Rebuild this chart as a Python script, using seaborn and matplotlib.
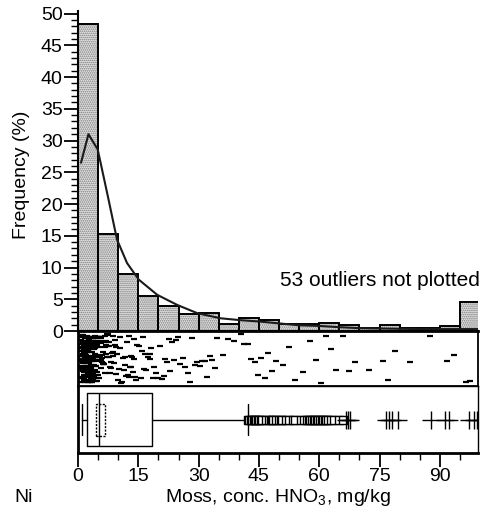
import numpy as np
import matplotlib
matplotlib.use("Agg")
import matplotlib.pyplot as plt
import seaborn as sns
from matplotlib.patches import Rectangle
from matplotlib.ticker import MultipleLocator

# ---------------- data ----------------
bin_edges = [0, 5, 10, 15, 20, 25, 30, 35, 40, 45, 50, 55, 60, 65, 70, 75, 80, 85, 90, 95, 100]
bin_freq = [48.3, 15.2, 8.95, 5.5, 4.0, 2.7, 2.8, 1.1, 2.0, 1.8, 1.1, 1.1, 1.3, 0.9,
            0.4, 1.0, 0.5, 0.4, 0.8, 4.5]

dens_x = [0.75, 2.6, 4.9, 7.5, 9.7, 12.2, 15.1, 19.7, 24.7, 29.7, 35.5, 40.5, 45, 50,
          55, 60, 65, 70, 75, 80, 85, 90, 95, 99.5]
dens_y = [26.5, 31.0, 28.6, 21.0, 14.4, 10.7, 8.1, 5.7, 4.1, 2.8, 2.0, 1.7, 1.5, 1.2,
          0.9, 0.8, 0.6, 0.45, 0.4, 0.35, 0.3, 0.3, 0.3, 0.3]

strip_values = [
    0.4, 0.5, 0.6, 0.7, 0.7, 0.8, 0.8, 0.9, 0.9, 1.0, 1.0, 1.0, 1.1, 1.1, 1.1, 1.2, 1.2, 1.2,
    1.3, 1.3, 1.3, 1.3, 1.4, 1.4, 1.4, 1.4, 1.5, 1.5, 1.5, 1.5, 1.6, 1.6, 1.6, 1.6, 1.7, 1.7,
    1.7, 1.7, 1.8, 1.8, 1.8, 1.8, 1.9, 1.9, 1.9, 1.9, 2.0, 2.0, 2.0, 2.0, 2.1, 2.1, 2.1, 2.1,
    2.2, 2.2, 2.2, 2.2, 2.3, 2.3, 2.3, 2.3, 2.4, 2.4, 2.4, 2.4, 2.5, 2.5, 2.5, 2.5, 2.6, 2.6,
    2.6, 2.6, 2.7, 2.7, 2.7, 2.7, 2.8, 2.8, 2.8, 2.8, 2.9, 2.9, 2.9, 3.0, 3.0, 3.0, 3.1, 3.1,
    3.1, 3.2, 3.2, 3.2, 3.3, 3.3, 3.3, 3.4, 3.4, 3.4, 3.5, 3.5, 3.5, 3.6, 3.6, 3.6, 3.7, 3.7,
    3.7, 3.8, 3.8, 3.8, 3.9, 3.9, 4.0, 4.0, 4.1, 4.1, 4.2, 4.2, 4.3, 4.3, 4.4, 4.4, 4.5, 4.5,
    4.6, 4.6, 4.7, 4.7, 4.8, 4.8, 4.9, 4.9, 5.0,
    0.45, 0.55, 0.65, 0.75, 0.85, 0.95, 1.05, 1.15, 1.25, 1.35, 1.45, 1.55, 1.65, 1.75, 1.85,
    1.95, 2.05, 2.15, 2.25, 2.35, 2.45, 2.55, 2.65, 2.75, 2.85, 2.95, 3.05, 3.15, 3.25, 3.35,
    3.45, 3.55, 3.65, 3.75, 3.85, 3.95, 4.05, 4.15, 4.25, 4.35, 4.45, 4.55, 4.65, 4.75, 4.85,
    1.05, 1.25, 1.45, 1.65, 1.85, 2.05, 2.25, 2.45, 2.65, 2.85, 3.05, 3.25, 3.45, 3.65, 3.85,
    5.1, 5.2, 5.3, 5.3, 5.4, 5.5, 5.6, 5.7, 5.8, 5.8, 5.9, 6.0, 6.1, 6.2, 6.3, 6.4, 6.5, 6.6,
    6.8, 6.9, 7.0, 7.1, 7.2, 7.3, 7.5, 7.6, 7.8, 7.9, 8.0, 8.1, 8.3, 8.5, 8.6, 8.7, 8.8, 9.0,
    9.1, 9.3, 9.4, 9.5, 9.7, 9.9, 5.15, 5.45, 5.75, 6.05, 6.35, 6.7, 7.05, 7.4, 7.7,
    10.2, 10.4, 10.5, 10.7, 10.9, 11.2, 11.4, 11.6, 11.8, 11.9, 12.1, 12.4, 12.6, 12.7, 12.9,
    13.1, 13.3, 13.4, 13.6, 13.9, 14.0, 14.2, 14.5, 14.8,
    15.2, 15.6, 15.9, 16.1, 16.3, 16.7, 17.0, 17.4, 17.8, 18.0, 18.2, 18.6, 19.0, 19.4, 19.8,
    20.3, 20.8, 21.3, 21.7, 22.1, 22.6, 23.0, 23.5, 24.0, 24.4, 24.8,
    25.4, 26.0, 26.6, 27.3, 27.9, 28.4, 29.0, 29.6,
    30.3, 30.9, 31.5, 32.1, 32.8, 33.4, 34.0, 34.6,
    36.0, 37.4, 38.8,
    40.6, 41.4, 42.3, 43.1, 44.0, 44.7,
    45.5, 46.4, 47.3, 48.2, 49.2,
    51.0, 52.5, 54.0,
    56.0, 57.6, 59.1,
    60.5, 61.8, 63.0, 64.3,
    65.8, 67.5, 69.0,
    72.5,
    75.8, 77.2, 78.8,
    82.5, 87.5, 91.7, 93.5, 96.6, 97.4,
]

box_whislo, box_q1, box_med, box_q3, box_whishi = 0.9, 2.2, 5.3, 18.4, 42.2
notch_lo, notch_hi = 4.4, 6.6
near_outliers = [42.2, 42.6, 43.0, 43.3, 43.7, 44.0, 44.4, 44.8, 45.1, 45.5, 45.8, 46.7,
                 47.5, 47.9, 48.3, 48.6, 49.3, 50.0, 50.4, 50.8, 51.8, 52.6, 53.4, 53.9,
                 55.5, 56.3, 57.0, 57.4, 57.8, 58.2, 58.6, 59.0, 59.4, 59.8, 60.2, 60.6,
                 61.0, 61.4, 61.8, 62.2, 63.0, 63.8, 65.0, 65.8]
far_outliers = [66.7, 67.2, 67.6, 76.5, 77.3, 78.2, 79.7, 87.8, 91.3, 92.3, 97.3, 98.4, 99.3]

x_ticks = [0, 15, 30, 45, 60, 75, 90]
y_ticks = [0, 5, 10, 15, 20, 25, 30, 35, 40, 45, 50]
note_text = "53 outliers not plotted"
x_label = "Moss, conc. HNO$_3$, mg/kg"
y_label = "Frequency (%)"
element_label = "Ni"

# ---------------- styling ----------------
sns.set_theme(style="ticks")
plt.rcParams['font.family'] = ['Liberation Sans', 'DejaVu Sans']
plt.rcParams['mathtext.fontset'] = 'custom'
plt.rcParams['mathtext.rm'] = 'Liberation Sans'
plt.rcParams['mathtext.it'] = 'Liberation Sans:italic'
plt.rcParams['hatch.linewidth'] = 0.8
FS = 14

W, H = 482, 521
fig = plt.figure(figsize=(W / 100, H / 100), dpi=100)


def ax_at(x0, y0, x1, y1):
    return fig.add_axes([x0 / W, 1 - y1 / H, (x1 - x0) / W, (y1 - y0) / H])


ax_h = ax_at(78, 11, 478, 331)
ax_s = ax_at(78, 331, 478, 386)
ax_b = ax_at(78, 386, 478, 453)

XMAX = 99.5

# ---------------- histogram ----------------
centers = [(a + b) / 2 for a, b in zip(bin_edges[:-1], bin_edges[1:])]
sns.histplot(x=centers, weights=bin_freq, bins=bin_edges, stat="count", ax=ax_h,
             color="#e4e4e4", edgecolor="#787878", linewidth=0, hatch="........",
             alpha=1)
sns.histplot(x=centers, weights=bin_freq, bins=bin_edges, stat="count", ax=ax_h,
             fill=False, color="black", edgecolor="black", linewidth=1.4)
sns.lineplot(x=dens_x, y=dens_y, ax=ax_h, color="#1a1a1a", linewidth=1.5)

ax_h.set_xlim(0, XMAX)
ax_h.set_ylim(0, 50.4)
ax_h.set_yticks(y_ticks)
ax_h.yaxis.set_minor_locator(MultipleLocator(1))
ax_h.tick_params(axis="y", which="major", length=10, width=1.3, labelsize=FS, pad=1, colors="black")
ax_h.tick_params(axis="y", which="minor", length=5, width=1.0, colors="black")
ax_h.set_xticks([])
ax_h.set_ylabel("")
ax_h.set_xlabel("")
for s in ["top", "right"]:
    ax_h.spines[s].set_visible(False)
ax_h.spines["left"].set_linewidth(1.5)
ax_h.spines["bottom"].set_linewidth(1.5)
for s in ax_h.spines.values():
    s.set_color("black")

# ---------------- strip panel ----------------
np.random.seed(3)
sns.stripplot(x=strip_values, ax=ax_s, jitter=0.45, marker="_", color="black",
              size=4.2, linewidth=1.6, edgecolor="black")
ax_s.set_xlim(0, XMAX)
ax_s.set_ylim(0.5, -0.5)
ax_s.set_xticks([])
ax_s.set_yticks([])
ax_s.set_xlabel("")
for s in ax_s.spines.values():
    s.set_visible(True)
    s.set_color("black")
    s.set_linewidth(1.3)
ax_s.spines["left"].set_linewidth(2)
ax_s.spines["top"].set_linewidth(2)

# ---------------- box panel ----------------
stats = [dict(whislo=box_whislo, q1=box_q1, med=box_med, q3=box_q3,
              whishi=box_whishi, fliers=[])]
lp = dict(color="black", linewidth=1.0)
ax_b.bxp(stats, positions=[0], widths=0.8, capwidths=0.47, orientation="horizontal",
         showfliers=False, boxprops=lp, whiskerprops=lp, capprops=lp,
         medianprops=lp, manage_ticks=False)
ax_b.add_patch(Rectangle((notch_lo, -0.24), notch_hi - notch_lo, 0.47, fill=False,
                         edgecolor="black", linewidth=1.0, linestyle=(0, (1.5, 1))))
sns.scatterplot(x=near_outliers, y=[0] * len(near_outliers), ax=ax_b, marker="s", s=32,
                facecolor="white", edgecolor="black", linewidth=1.0, zorder=3)
sns.scatterplot(x=far_outliers, y=[0] * len(far_outliers), ax=ax_b, marker="+", s=150,
                color="black", linewidth=1.0, zorder=3)
ax_b.set_xlim(0, XMAX)
ax_b.set_ylim(-0.5, 0.5)
ax_b.set_yticks([])
ax_b.set_xticks(x_ticks)
ax_b.set_xticklabels([str(t) for t in x_ticks])
ax_b.xaxis.set_minor_locator(MultipleLocator(5))
ax_b.tick_params(axis="x", which="major", length=10, width=1.3, labelsize=FS, pad=1, colors="black")
ax_b.tick_params(axis="x", which="minor", length=5, width=1.0, colors="black")
ax_b.set_xlabel("")
for s in ax_b.spines.values():
    s.set_visible(True)
    s.set_color("black")
    s.set_linewidth(1.0)
ax_b.spines["left"].set_linewidth(2)
ax_b.spines["bottom"].set_linewidth(2)

# ---------------- texts ----------------
fig.text(480 / W, 1 - 281 / H, note_text, ha="right", va="center", fontsize=15, color="black")
fig.text(22 / W, 1 - 175 / H, y_label, rotation=90, ha="center", va="center", fontsize=FS, color="black")
fig.text(278 / W, 1 - 497 / H, x_label, ha="center", va="center", fontsize=FS, color="black")
fig.text(14 / W, 1 - 497 / H, element_label, ha="left", va="center", fontsize=FS, color="black")

fig.savefig("out.png", dpi=100)
